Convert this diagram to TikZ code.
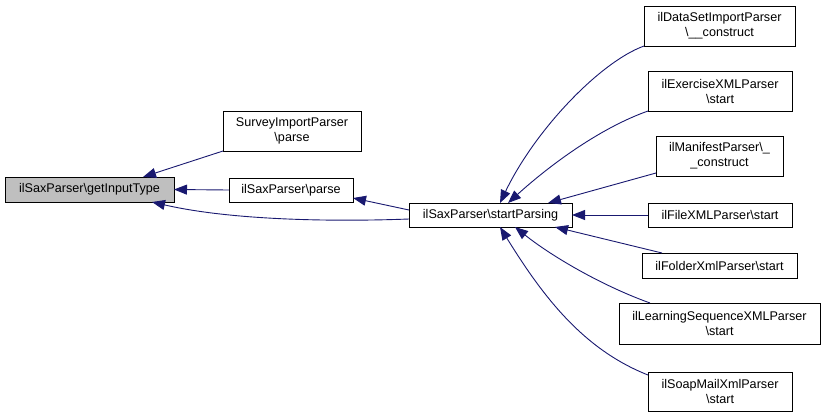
\documentclass[tikz,border=0pt]{standalone}
\usepackage{fontspec}
\setmainfont{Liberation Sans}
\usetikzlibrary{arrows.meta}
\definecolor{edgeblue}{RGB}{25,25,112}
\definecolor{hlgrey}{RGB}{191,191,191}
\begin{document}
\begin{tikzpicture}[x=1pt,y=-1pt,
  box/.style={draw=black, line width=0.9pt, fill=white, inner sep=0pt, outer sep=0pt, align=center,
    font=\fontsize{12.6}{15}\selectfont},
  call/.style={draw=edgeblue, line width=0.9pt, -{Triangle[length=13pt,width=10pt]}, edgeblue}]
\useasboundingbox (0,0) rectangle (825,416);
% nodes
\node[box, fill=hlgrey, minimum width=169pt, minimum height=25pt] (gi) at (89.5,189.5) {ilSaxParser\textbackslash getInputType};
\node[box, minimum width=138pt, minimum height=40pt] (sv) at (292,131) {SurveyImportParser\\\textbackslash parse};
\node[box, minimum width=124pt, minimum height=24pt] (pa) at (291,190) {ilSaxParser\textbackslash parse};
\node[box, minimum width=163pt, minimum height=24pt] (sp) at (490.5,215) {ilSaxParser\textbackslash startParsing};
\node[box, minimum width=151pt, minimum height=40pt] (ds) at (719.5,26) {ilDataSetImportParser\\\textbackslash \_\_construct};
\node[box, minimum width=144pt, minimum height=40pt] (ex) at (720,91) {ilExerciseXMLParser\\\textbackslash start};
\node[box, minimum width=127pt, minimum height=40pt] (mf) at (719.5,156) {ilManifestParser\textbackslash \_\\\_construct};
\node[box, minimum width=144pt, minimum height=24pt] (fx) at (720,215) {ilFileXMLParser\textbackslash start};
\node[box, minimum width=155pt, minimum height=25pt] (fo) at (719.5,265.5) {ilFolderXmlParser\textbackslash start};
\node[box, minimum width=201pt, minimum height=41pt] (ls) at (719.5,323.5) {ilLearningSequenceXMLParser\\\textbackslash start};
\node[box, minimum width=144pt, minimum height=39pt] (sm) at (720,391.5) {ilSoapMailXmlParser\\\textbackslash start};
% edges
\draw[call] (sv.south west) -- ([xshift=53.5pt]gi.north);
\draw[call] (pa.west) -- (gi.east);
\draw[call] ([yshift=-4pt]sp.west) .. controls (330,222) and (230,220) .. ([xshift=62.5pt]gi.south);
\draw[call] ([yshift=5pt]sp.west) -- ([yshift=-8pt]pa.east);
\draw[call] (ds.south west) .. controls (600,62) and (535,130) .. ([xshift=9.5pt]sp.north);
\draw[call] (ex.south west) .. controls (600,128) and (550,165) .. ([xshift=17.5pt]sp.north);
\draw[call] ([yshift=3pt]mf.south west) -- ([xshift=57.5pt]sp.north);
\draw[call] (fx.west) -- (sp.east);
\draw[call] ([xshift=20pt]fo.north west) -- ([xshift=64.5pt]sp.south);
\draw[call] ([xshift=31pt]ls.north west) .. controls (600,285) and (550,255) .. ([xshift=24.5pt]sp.south);
\draw[call] ([yshift=-3pt]sm.north west) .. controls (585,350) and (545,300) .. ([xshift=9.5pt]sp.south);
\end{tikzpicture}
\end{document}
